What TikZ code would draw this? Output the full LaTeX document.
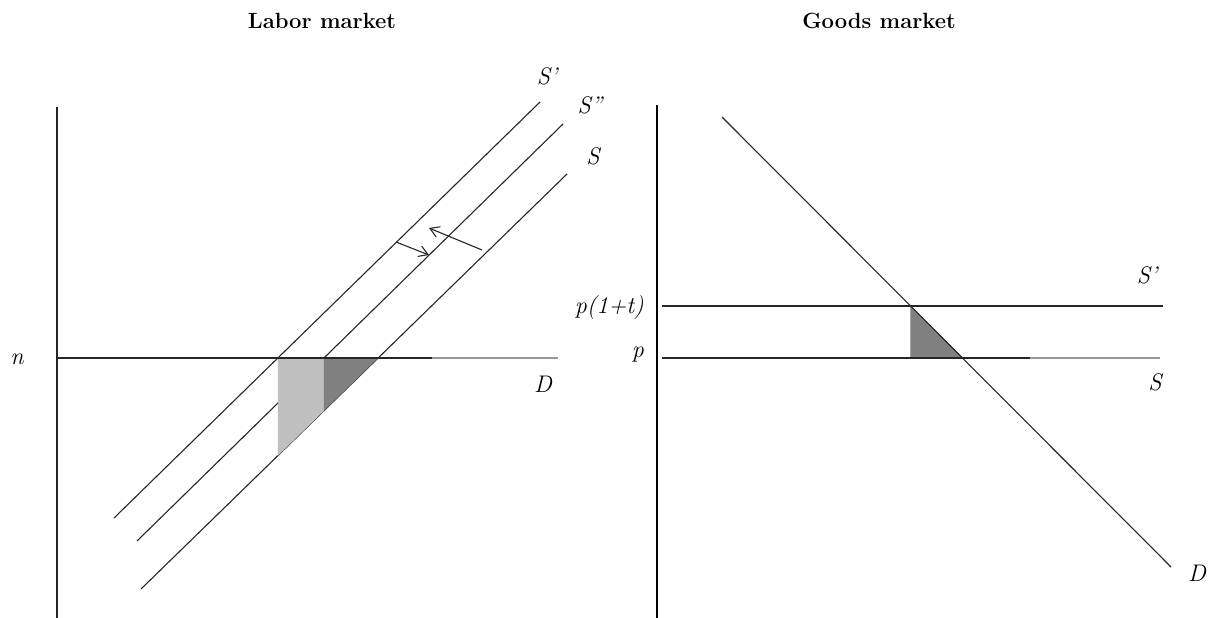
\documentclass[tikz,border=0pt]{standalone}
\usepackage{fontspec}
\usetikzlibrary{arrows.meta, calc}
\tikzset{
    % Lines
    curve/.style={line width=1.1pt, black!85},
    faded/.style={line width=1.1pt, black!40},
    axis/.style={line width=1.8pt, black!85},
    axisBold/.style={line width=2.8pt, black},
    shiftArrow/.style={-{Straight Barb[length=9pt, width=11pt]}, line width=1.1pt, black!85},
    % Areas
    lightArea/.style={fill=black!25},
    darkArea/.style={fill=black!50},
    % Text
    lbl/.style={font=\fontsize{24}{28}\selectfont\itshape, inner sep=0pt},
    heading/.style={font=\fontsize{22}{26}\selectfont\bfseries, inner sep=0pt}
}
\begin{document}
\begin{tikzpicture}[x=1pt, y=-1pt]
\useasboundingbox (0,0) rectangle (1212,618);

% Labor market
\node[heading] (labTitle) at (322,21) {Labor market};

\coordinate (lBot) at (57,618);
\coordinate (lTop) at (57,107);
\coordinate (nL) at (57,358);
\coordinate (nM) at (432,358);
\coordinate (nR) at (558,358);
\coordinate (spA) at (114,518);
\coordinate (spB) at (540,102);
\coordinate (sppA) at (137,541);
\coordinate (sppB) at (563,124);
\coordinate (sA) at (141,589);
\coordinate (sB) at (567,174);

\draw[axis] (lBot) -- (lTop);
\draw[curve] (spA) -- (spB);
\draw[curve] (sppA) -- (sppB);
\draw[curve] (sA) -- (sB);

\coordinate (q1) at (intersection of spA--spB and nL--nR);
\coordinate (q2) at (intersection of sppA--sppB and nL--nR);
\coordinate (q3) at (intersection of sA--sB and nL--nR);
\coordinate (q1d) at ($(q1)+(0,150)$);
\coordinate (q2d) at ($(q2)+(0,150)$);
\coordinate (q4) at (intersection of sA--sB and q2--q2d);
\coordinate (q5) at (intersection of sA--sB and q1--q1d);

\fill[lightArea] (q1) -- (q2) -- (q4) -- (q5) -- cycle;
\fill[darkArea] (q2) -- (q3) -- (q4) -- cycle;

\draw[curve] (nL) -- (nM);
\draw[faded] (nM) -- (nR);

\coordinate (a1s) at (396,242);
\coordinate (a1e) at (429,255);
\coordinate (a2s) at (482,250);
\coordinate (a2e) at (429,228);
\draw[shiftArrow] (a1s) -- (a1e);
\draw[shiftArrow] (a2s) -- (a2e);

\node[lbl] (nLbl) at (17,359) {n};
\node[lbl] (dLbl) at (543,384) {D};
\node[lbl] (spLbl) at (547,76) {S'};
\node[lbl] (sppLbl) at (590,105) {S''};
\node[lbl] (sLbl) at (593,156) {S};

% Goods market
\node[heading] (goodsTitle) at (879,21) {Goods market};

\coordinate (gBot) at (657,618);
\coordinate (gTop) at (657,105);
\coordinate (tL) at (662,306);
\coordinate (tR) at (1163,306);
\coordinate (pL) at (662,358);
\coordinate (pM) at (1030,358);
\coordinate (pR) at (1160,358);
\coordinate (dA) at (722,117);
\coordinate (dB) at (1171,567);

\coordinate (r1) at (intersection of dA--dB and tL--tR);
\coordinate (r2) at (intersection of dA--dB and pL--pR);

\fill[darkArea] (r1) -- (r1 |- pL) -- (r2) -- cycle;
\draw[line width=0.6pt, black!35] (r1) -- (r1 |- pL);

\draw[axisBold] (gBot) -- (gTop);
\draw[curve] (tL) -- (tR);
\draw[curve] (pL) -- (pM);
\draw[faded] (pM) -- (pR);
\draw[curve] (dA) -- (dB);

\node[lbl, anchor=east] (ptLbl) at (644,308) {p(1+t)};
\node[lbl, anchor=east] (pLbl) at (644,355) {p};
\node[lbl] (tsLbl) at (1147,275) {S'};
\node[lbl] (gsLbl) at (1155,382) {S};
\node[lbl] (gdLbl) at (1197,573) {D};

\end{tikzpicture}
\end{document}
